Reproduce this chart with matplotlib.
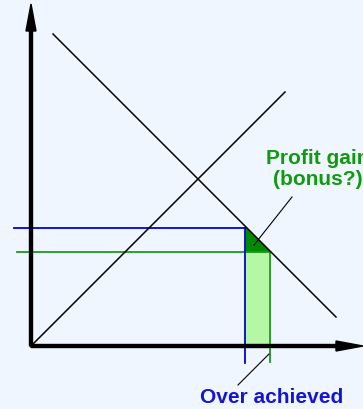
import numpy as np
import matplotlib
matplotlib.use("Agg")
import matplotlib.pyplot as plt

# diagram values (arbitrary units, origin at the axes corner)
supply_x = [0, 254]
supply_y = [0, 254]
demand_x = [22, 305]
demand_y = [312, 29]
target = (214, 118)      # blue: planned quantity / price
achieved = (239, 94)     # green: what was actually reached

BLUE = "#0000e6"
GREEN = "#1e9a1e"
TEXT_GREEN = "#109a10"
TEXT_BLUE = "#1414d2"
BG = "#f0f6ff"

plt.rcParams["font.family"] = ["Liberation Sans", "DejaVu Sans"]

fig = plt.figure(figsize=(3.63, 4.10), dpi=100, facecolor=BG)
ax = fig.add_axes([0, 0, 1, 1])
ax.set_facecolor(BG)
ax.set_xlim(-31, 332)
ax.set_ylim(-63, 347)
ax.axis("off")


def demand(x):
    return np.interp(x, demand_x, demand_y)


# over-achieved band and the profit triangle
xs = np.linspace(target[0], achieved[0], 20)
ax.fill_between(xs, 0, achieved[1], color="#b4f7a4", lw=0, zorder=1)
ax.fill_between(xs, achieved[1], demand(xs), color="#008a00", lw=0, zorder=2)

# guide lines
ax.plot([-14, achieved[0]], [achieved[1], achieved[1]], color=GREEN, lw=1.3, zorder=3)
ax.plot([achieved[0], achieved[0]], [achieved[1], -16], color=GREEN, lw=1.3, zorder=3)
ax.plot([-17, target[0]], [target[1], target[1]], color=BLUE, lw=1.3, zorder=4)
ax.plot([target[0], target[0]], [target[1], -17], color=BLUE, lw=1.3, zorder=4)

# supply & demand
ax.plot(supply_x, supply_y, color="black", lw=1.1, zorder=5)
ax.plot(demand_x, demand_y, color="black", lw=1.1, zorder=5)

# axes with arrows
ax.arrow(0, 0, 0, 342, width=3, head_width=10, head_length=27,
         length_includes_head=True, color="black", zorder=6)
ax.arrow(0, 0, 332, 0, width=3, head_width=10, head_length=27,
         length_includes_head=True, color="black", zorder=6)

# labels
ax.plot([261, 223], [149, 101], color="black", lw=0.8, zorder=7)
ax.text(287, 178, "Profit gain\n(bonus?)", color=TEXT_GREEN, fontsize=15,
        fontweight="bold", ha="center", va="center", linespacing=1.15, zorder=7)
ax.plot([238, 207], [-8, -39], color="black", lw=0.8, zorder=7)
ax.text(241, -51, "Over achieved", color=TEXT_BLUE, fontsize=15,
        fontweight="bold", ha="center", va="center", zorder=7)

fig.savefig("out.png", dpi=100, facecolor=BG)
